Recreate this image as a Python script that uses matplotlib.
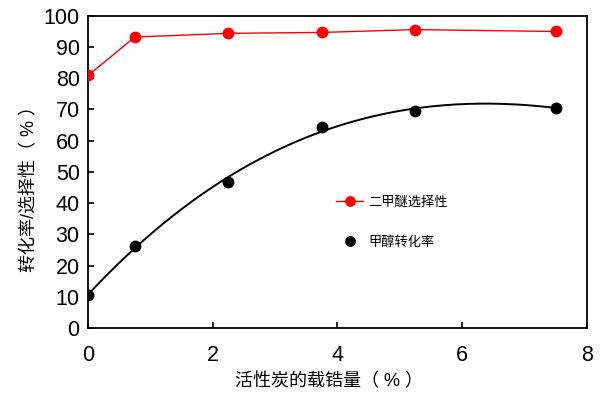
import matplotlib
matplotlib.use('Agg')
import matplotlib.pyplot as plt
import numpy as np

plt.rcParams['font.family'] = ['Liberation Sans', 'Noto Sans CJK SC', 'DejaVu Sans']

loading = [0, 0.75, 2.25, 3.75, 5.25, 7.5]
dme_sel = [80.9, 93.2, 94.4, 94.7, 95.6, 95.0]
meoh_conv = [10.4, 26.4, 46.9, 64.5, 69.6, 70.6]

# cubic trendline for conversion
coef = np.polyfit(loading, meoh_conv, 3)
xs = np.linspace(0, 7.5, 200)
ys = np.polyval(coef, xs)

fig = plt.figure(figsize=(6, 3.97), dpi=100)
ax = fig.add_axes([0.1467, 0.174, 0.8313, 0.786])

ax.plot(loading, dme_sel, color='#ff0000', lw=1.0, marker='o', ms=7.5,
        label='二甲醚选择性', zorder=3)
ax.plot(xs, ys, color='black', lw=1.4, zorder=2)
ax.plot(loading, meoh_conv, ls='none', color='black', marker='o', ms=7.5,
        label='甲醇转化率', zorder=3)

ax.set_xlim(0, 8)
ax.set_ylim(0, 100)
ax.set_xticks([0, 2, 4, 6, 8])
ax.set_yticks(range(0, 101, 10))
ax.tick_params(direction='in', length=4, width=1.2, labelsize=15.5)
ax.tick_params(axis='x', pad=12)
ax.tick_params(axis='y', pad=6)
for s in ax.spines.values():
    s.set_linewidth(1.3)

ax.set_xlabel('活性炭的载锆量（ % ）', fontsize=13)
ax.set_ylabel('转化率/选择性（ % ）', fontsize=13)
ax.xaxis.set_label_coords(0.483, -0.145)
ax.yaxis.set_label_coords(-0.1, 0.46)

ax.legend(frameon=False, fontsize=9.5, loc='upper left',
          bbox_to_anchor=(0.474, 0.46), labelspacing=2.1, handlelength=2.0,
          handletextpad=0.4, markerscale=0.9)

fig.savefig('out.png', dpi=100)
